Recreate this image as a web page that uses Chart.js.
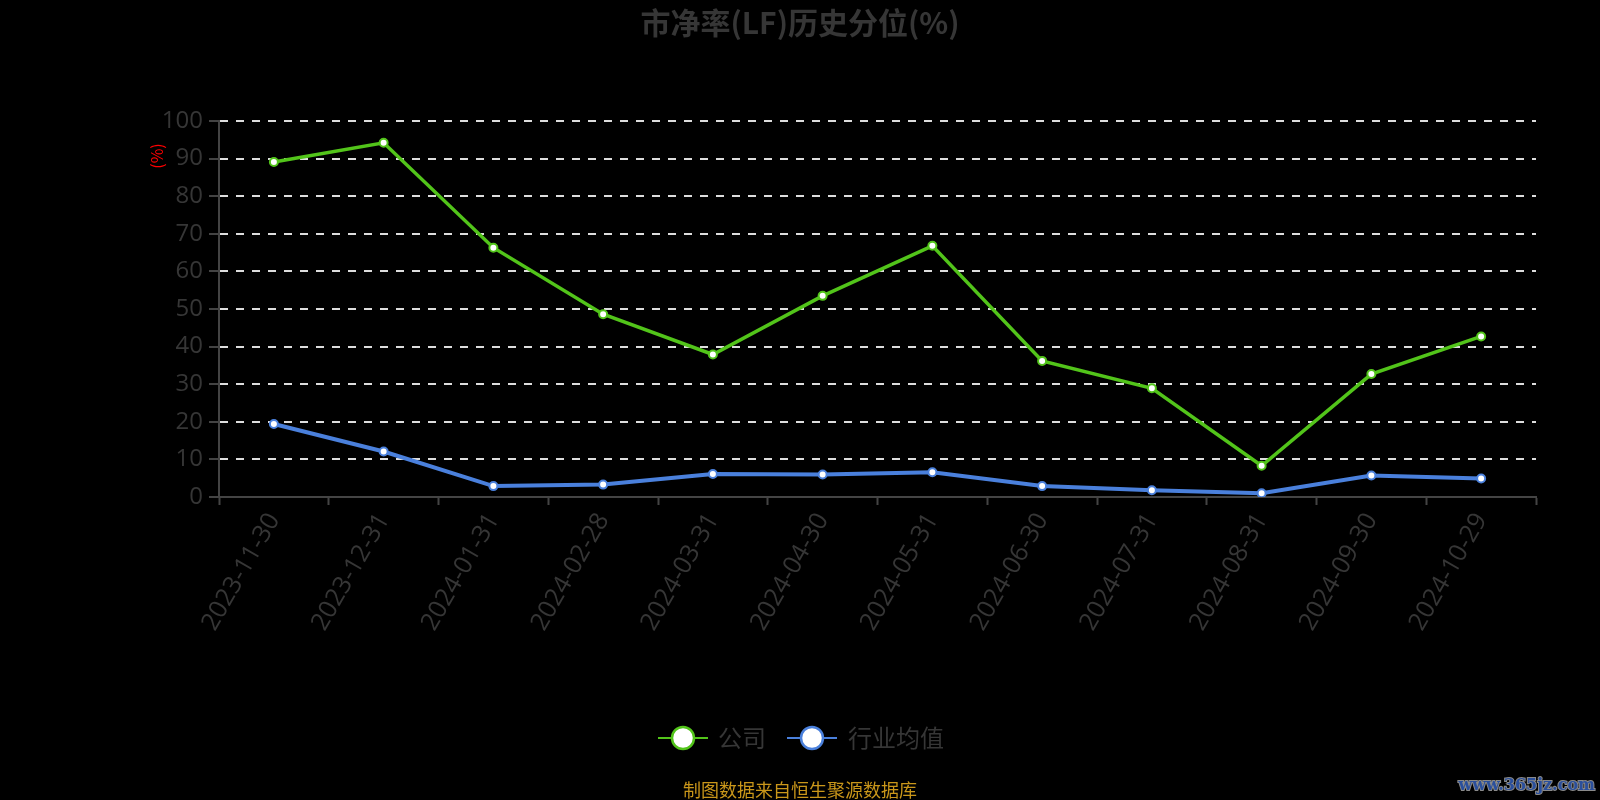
<!DOCTYPE html>
<html>
<head>
<meta charset="utf-8">
<script src="https://cdn.jsdelivr.net/npm/chart.js@4"></script>
<style>
  html, body { margin: 0; padding: 0; background: #000; }
  canvas { display: block; }
</style>
</head>
<body>
<canvas id="pbChart" width="1600" height="800"></canvas>
<script>
const dates = ['2023-11-30', '2023-12-31', '2024-01-31', '2024-02-28', '2024-03-31', '2024-04-30',
               '2024-05-31', '2024-06-30', '2024-07-31', '2024-08-31', '2024-09-30', '2024-10-29'];
const company = [89.1, 94.2, 66.3, 48.6, 37.9, 53.5, 66.8, 36.2, 28.9, 8.3, 32.7, 42.7];
const industry = [19.4, 12.1, 2.9, 3.3, 6.1, 6.0, 6.6, 2.9, 1.8, 1.0, 5.7, 4.9];
const seriesNames = ['公司', '行业均值'];
const seriesColors = ['#52c41a', '#4a80dc'];
const lineWidths = [3.5, 4];

const FONT = '"Open Sans", "Noto Sans CJK SC", sans-serif';
const CJK = '"Noto Sans CJK SC", "Noto Sans", sans-serif';
const textGray = '#363636';

// title, unit label, legend, footer, watermark
const decor = {
    id: 'decor',
    beforeDraw(chart) {
        const c = chart.ctx;
        c.save();
        c.fillStyle = '#000';
        c.fillRect(0, 0, chart.width, chart.height);
        c.restore();
    },
    afterDraw(chart) {
        const c = chart.ctx;
        c.save();
        c.textBaseline = 'middle';

        c.fillStyle = textGray;
        c.textAlign = 'center';
        c.font = 'bold 30px ' + CJK;
        c.fillText('市净率(LF)历史分位(%)', 800, 23);

        // unit
        c.save();
        c.translate(157, 156);
        c.rotate(-Math.PI / 2);
        c.fillStyle = '#ff0000';
        c.font = '16px ' + CJK;
        c.fillText('(%)', 0, 0);
        c.restore();

        // legend
        const items = [{x: 658, tx: 718}, {x: 787, tx: 848}];
        items.forEach((it, i) => {
            const y = 738;
            c.strokeStyle = seriesColors[i];
            c.lineWidth = 2;
            c.beginPath();
            c.moveTo(it.x, y);
            c.lineTo(it.x + 50, y);
            c.stroke();
            c.beginPath();
            c.arc(it.x + 25, y, 11, 0, Math.PI * 2);
            c.fillStyle = '#fff';
            c.fill();
            c.lineWidth = 2.5;
            c.stroke();
            c.fillStyle = textGray;
            c.textAlign = 'left';
            c.font = '24px ' + CJK;
            c.fillText(seriesNames[i], it.tx, y);
        });

        // footer
        c.textAlign = 'center';
        c.fillStyle = '#c9961a';
        c.font = '18px ' + CJK;
        c.fillText('制图数据来自恒生聚源数据库', 800, 790);

        // watermark
        c.textAlign = 'right';
        c.font = 'bold 16px "DejaVu Serif", serif';
        c.lineWidth = 2;
        c.strokeStyle = '#8a8a8a';
        c.strokeText('www.365jz.com', 1595, 786);
        c.fillStyle = '#2a4f9c';
        c.fillText('www.365jz.com', 1595, 786);
        c.restore();
    }
};

const ctx = document.getElementById('pbChart').getContext('2d');
new Chart(ctx, {
    type: 'line',
    data: {
        labels: dates,
        datasets: [company, industry].map((vals, i) => ({
            label: seriesNames[i],
            data: vals,
            borderColor: seriesColors[i],
            borderWidth: lineWidths[i],
            pointRadius: 4,
            pointBorderWidth: 2,
            pointBackgroundColor: '#fff',
            pointBorderColor: seriesColors[i],
            tension: 0
        }))
    },
    options: {
        responsive: false,
        animation: false,
        layout: { padding: { top: 121, right: 64, left: 0, bottom: 0 } },
        plugins: {
            legend: { display: false },
            title: { display: false },
            tooltip: { enabled: false }
        },
        scales: {
            x: {
                offset: true,
                afterFit(scale) { scale.height = 303; },
                grid: {
                    offset: true,
                    drawOnChartArea: false,
                    drawTicks: true,
                    tickLength: 8,
                    tickColor: '#444',
                    tickWidth: 2
                },
                border: { color: '#444', width: 2 },
                ticks: {
                    color: textGray,
                    font: { size: 25, family: FONT },
                    minRotation: 60,
                    maxRotation: 60,
                    padding: 3,
                    autoSkip: false
                }
            },
            y: {
                min: 0,
                max: 100,
                afterFit(scale) { scale.width = 219; },
                grid: {
                    color: '#dddddd',
                    lineWidth: 2,
                    drawTicks: true,
                    tickLength: 10,
                    tickColor: '#444',
                    tickWidth: 2,
                    tickBorderDash: []
                },
                border: { color: '#444', width: 2, dash: [8, 8] },
                ticks: {
                    stepSize: 10,
                    color: textGray,
                    font: { size: 24, family: FONT },
                    padding: 6
                }
            }
        }
    },
    plugins: [decor]
});
</script>
</body>
</html>
